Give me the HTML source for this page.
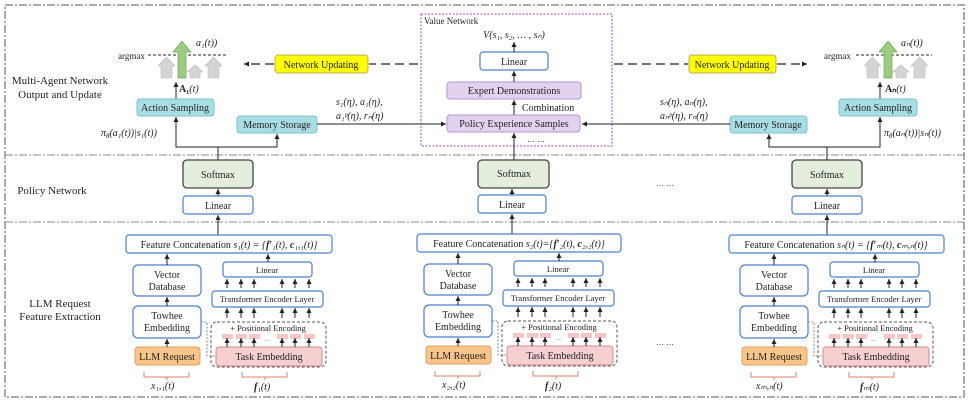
<!DOCTYPE html>
<html><head><meta charset="utf-8"><style>
html,body{margin:0;padding:0;background:#fff}
svg{display:block}
text{font-family:"Liberation Serif",serif;fill:#222}
.b{fill:#fff;stroke:#4a7fd0;stroke-width:1.2}
.sm{fill:#e3efdc;stroke:#444;stroke-width:1.3}
.cy{fill:#a9dde4;stroke:#7cc3cc;stroke-width:1}
.pu{fill:#e2d2f0;stroke:#b795d6;stroke-width:1}
.ye{fill:#ffff00;stroke:#b9a86a;stroke-width:1}
.or{fill:#f8c58b;stroke:#e0a060;stroke-width:1}
.pk{fill:#f6cfd0;stroke:#d38b8d;stroke-width:1}
.ln{stroke:#222;stroke-width:1;fill:none}
.br{stroke:#d9826a;stroke-width:1;fill:none}
.it{font-style:italic}
</style></head><body>
<svg width="969" height="402" viewBox="0 0 969 402" xmlns="http://www.w3.org/2000/svg">
<defs>
<marker id="a" markerWidth="6" markerHeight="6" refX="5" refY="3" orient="auto" markerUnits="userSpaceOnUse"><path d="M0,0.5 L5,3 L0,5.5z" fill="#222"/></marker>
</defs>
<rect x="5" y="5" width="959" height="392" fill="none" stroke="#555" stroke-width="1" stroke-dasharray="8,2,2,2"/>
<line x1="5" y1="155" x2="964" y2="155" stroke="#888" stroke-dasharray="8,2,2,2"/>
<line x1="5" y1="222" x2="964" y2="222" stroke="#888" stroke-dasharray="8,2,2,2"/>

<g font-size="11" text-anchor="middle">
<text x="60" y="84">Multi-Agent Network</text>
<text x="60" y="98">Output and Update</text>
<text x="52" y="194">Policy Network</text>
<text x="60" y="307">LLM Request</text>
<text x="60" y="320">Feature Extraction</text>
</g>

<rect x="421" y="14" width="191" height="132" fill="none" stroke="#9a4fd0" stroke-width="1" stroke-dasharray="2,1.5"/>
<text x="424" y="24" font-size="9">Value Network</text>
<text x="514" y="38" font-size="10" text-anchor="middle" class="it">V(s₁, s₂, … , sₙ)</text>
<rect class="b" x="480" y="52" width="68" height="18" rx="3"/>
<text x="514" y="65" font-size="10" text-anchor="middle">Linear</text>
<line class="ln" x1="514" y1="52" x2="514" y2="42" marker-end="url(#a)"/>
<rect class="pu" x="447" y="82" width="134" height="17" rx="3"/>
<text x="514" y="94" font-size="10" text-anchor="middle">Expert Demonstrations</text>
<line class="ln" x1="514" y1="82" x2="514" y2="71" marker-end="url(#a)"/>
<rect class="pu" x="447" y="115" width="133" height="17" rx="3"/>
<text x="514" y="127" font-size="10" text-anchor="middle">Policy Experience Samples</text>
<line class="ln" x1="514" y1="115" x2="514" y2="100" marker-end="url(#a)"/>
<text x="522" y="111" font-size="10">Combination</text>
<text x="527" y="142" font-size="8">… …</text>
<line class="ln" x1="514" y1="160" x2="514" y2="133" marker-end="url(#a)"/>

<rect class="ye" x="275" y="55" width="93" height="18" rx="3"/>
<text x="321" y="68" font-size="10" text-anchor="middle">Network Updating</text>
<line x1="418" y1="64" x2="369" y2="64" stroke="#222" stroke-width="1.3" stroke-dasharray="9,5"/>
<line x1="274" y1="64" x2="244" y2="64" stroke="#222" stroke-width="1.3" stroke-dasharray="9,5" marker-end="url(#a)"/>
<rect class="ye" x="689" y="55" width="87" height="18" rx="3"/>
<text x="732" y="68" font-size="10" text-anchor="middle">Network Updating</text>
<line x1="614" y1="64" x2="688" y2="64" stroke="#222" stroke-width="1.3" stroke-dasharray="9,5"/>
<line x1="777" y1="64" x2="807" y2="64" stroke="#222" stroke-width="1.3" stroke-dasharray="9,5" marker-end="url(#a)"/>

<text x="118" y="59" font-size="9">argmax</text>
<line x1="148" y1="55" x2="226" y2="55" stroke="#222" stroke-dasharray="3,2"/>
<path d="M161,78 V66 H158 L166.5,57 L175,66 H172 V78z" fill="#d4d4d4" stroke="#bbb" stroke-width="0.6"/>
<path d="M190,78 V72 H187 L195,65 L203,72 H200 V78z" fill="#d4d4d4" stroke="#bbb" stroke-width="0.6"/>
<path d="M208,78 V66 H205 L213.5,57 L222,66 H219 V78z" fill="#d4d4d4" stroke="#bbb" stroke-width="0.6"/>
<path d="M178,78 V52 H173 L182,41 L191,52 H186 V78z" fill="#9ccb82" stroke="#6fa55a" stroke-width="0.7"/>
<text x="196" y="46" font-size="10" class="it">a₁(t))</text>
<text x="179" y="92" font-size="10" font-weight="bold">A₁<tspan font-weight="normal" class="it">(t)</tspan></text>
<line class="ln" x1="176" y1="99" x2="176" y2="82" marker-end="url(#a)"/>
<rect class="cy" x="137" y="99" width="77" height="17" rx="3"/>
<text x="175" y="111" font-size="10" text-anchor="middle">Action Sampling</text>
<rect class="cy" x="237" y="116" width="80" height="17" rx="3"/>
<text x="277" y="128" font-size="10" text-anchor="middle">Memory Storage</text>
<text x="101" y="136" font-size="10" class="it">π<tspan font-size="7" dy="2">θ</tspan><tspan dy="-2">(a₁(t))|s₁(t))</tspan></text>
<polyline class="ln" points="218,160 218,147 176,147 176,117" marker-end="url(#a)"/>
<polyline class="ln" points="218,147 277,147 277,134" marker-end="url(#a)"/>
<line class="ln" x1="317" y1="124" x2="446" y2="124" marker-end="url(#a)"/>
<text x="336" y="105" font-size="10" class="it">s₁(η), a₁(η),</text>
<text x="336" y="119" font-size="10" class="it">a₁ᵖ(η), rₙ(η)</text>

<text x="824" y="59" font-size="9">argmax</text>
<line x1="856" y1="55" x2="932" y2="55" stroke="#222" stroke-dasharray="3,2"/>
<path d="M867,78 V66 H864 L872.5,57 L881,66 H878 V78z" fill="#d4d4d4" stroke="#bbb" stroke-width="0.6"/>
<path d="M896,78 V72 H893 L901,65 L909,72 H906 V78z" fill="#d4d4d4" stroke="#bbb" stroke-width="0.6"/>
<path d="M914,78 V66 H911 L919.5,57 L928,66 H925 V78z" fill="#d4d4d4" stroke="#bbb" stroke-width="0.6"/>
<path d="M884,78 V52 H879 L888,41 L897,52 H892 V78z" fill="#9ccb82" stroke="#6fa55a" stroke-width="0.7"/>
<text x="901" y="46" font-size="10" class="it">aₙ(t))</text>
<text x="885" y="92" font-size="10" font-weight="bold">Aₙ<tspan font-weight="normal" class="it">(t)</tspan></text>
<line class="ln" x1="880" y1="99" x2="880" y2="82" marker-end="url(#a)"/>
<rect class="cy" x="839" y="99" width="78" height="17" rx="3"/>
<text x="878" y="111" font-size="10" text-anchor="middle">Action Sampling</text>
<rect class="cy" x="730" y="116" width="77" height="17" rx="3"/>
<text x="768" y="128" font-size="10" text-anchor="middle">Memory Storage</text>
<text x="884" y="136" font-size="10" class="it">π<tspan font-size="7" dy="2">θ</tspan><tspan dy="-2">(aₙ(t))|sₙ(t))</tspan></text>
<polyline class="ln" points="827,160 827,147 880,147 880,117" marker-end="url(#a)"/>
<polyline class="ln" points="827,147 769,147 769,134" marker-end="url(#a)"/>
<line class="ln" x1="730" y1="124" x2="582" y2="124" marker-end="url(#a)"/>
<text x="660" y="105" font-size="10" class="it">sₙ(η), aₙ(η),</text>
<text x="660" y="119" font-size="10" class="it">aₙᵖ(η), rₙ(η)</text>

<rect class="sm" x="183" y="160" width="70" height="28" rx="4"/><text x="218" y="178" font-size="10" text-anchor="middle">Softmax</text>
<rect class="b" x="183" y="196" width="70" height="18" rx="3"/><text x="218" y="209" font-size="10" text-anchor="middle">Linear</text>
<line class="ln" x1="218" y1="196" x2="218" y2="189" marker-end="url(#a)"/>
<line class="ln" x1="218" y1="235" x2="218" y2="215" marker-end="url(#a)"/>
<rect class="sm" x="478" y="160" width="71" height="28" rx="4"/><text x="514" y="177" font-size="10" text-anchor="middle">Softmax</text>
<rect class="b" x="478" y="195" width="68" height="18" rx="3"/><text x="512" y="208" font-size="10" text-anchor="middle">Linear</text>
<line class="ln" x1="512" y1="195" x2="512" y2="189" marker-end="url(#a)"/>
<line class="ln" x1="512" y1="234" x2="512" y2="214" marker-end="url(#a)"/>
<rect class="sm" x="792" y="160" width="70" height="28" rx="4"/><text x="827" y="178" font-size="10" text-anchor="middle">Softmax</text>
<rect class="b" x="792" y="196" width="70" height="18" rx="3"/><text x="827" y="209" font-size="10" text-anchor="middle">Linear</text>
<line class="ln" x1="827" y1="196" x2="827" y2="189" marker-end="url(#a)"/>
<line class="ln" x1="827" y1="235" x2="827" y2="215" marker-end="url(#a)"/>
<text x="656" y="186" font-size="8">… …</text>
<text x="656" y="345" font-size="8">… …</text>

<g id="col1">
<rect class="b" x="133" y="265" width="68" height="31" rx="5"/>
<text x="167" y="278" font-size="10" text-anchor="middle">Vector</text><text x="167" y="290" font-size="10" text-anchor="middle">Database</text>
<rect class="b" x="133" y="306" width="68" height="32" rx="5"/>
<text x="167" y="319" font-size="10" text-anchor="middle">Towhee</text><text x="167" y="331" font-size="10" text-anchor="middle">Embedding</text>
<rect class="or" x="135" y="347" width="65" height="18" rx="3"/>
<text x="167" y="360" font-size="10" text-anchor="middle">LLM Request</text>
<line class="ln" x1="167" y1="347" x2="167" y2="339" marker-end="url(#a)"/>
<line class="ln" x1="167" y1="306" x2="167" y2="297" marker-end="url(#a)"/>
<line class="ln" x1="167" y1="265" x2="167" y2="254" marker-end="url(#a)"/>
<rect class="b" x="223" y="262" width="89" height="15" rx="3"/>
<text x="267" y="273" font-size="8.5" text-anchor="middle">Linear</text>
<line class="ln" x1="268" y1="262" x2="268" y2="254" marker-end="url(#a)"/>
<rect class="b" x="212" y="291" width="111" height="16" rx="3"/>
<text x="267" y="302" font-size="8.5" text-anchor="middle">Transformer Encoder Layer</text>
<rect x="211" y="322" width="115" height="45" rx="6" fill="none" stroke="#555" stroke-dasharray="3,2"/>
<text x="268" y="331" font-size="8.5" text-anchor="middle">+ Positional Encoding</text>
<polyline points="201,322 207,322 207,356 216,356" fill="none" stroke="#888" stroke-dasharray="2,1.5"/>
<rect class="pk" x="216" y="347" width="106" height="19" rx="3"/>
<text x="269" y="360" font-size="10" text-anchor="middle">Task Embedding</text>
<g fill="#f6c6c8"><rect x="222" y="334" width="11" height="5"/><rect x="236" y="334" width="11" height="5"/><rect x="249" y="334" width="11" height="5"/><rect x="277" y="334" width="11" height="5"/><rect x="290" y="334" width="11" height="5"/><rect x="304" y="334" width="11" height="5"/></g>
<text x="264" y="341" font-size="6">…</text>
<g class="ln">
<line x1="227" y1="347" x2="227" y2="338" marker-end="url(#a)"/><line x1="241" y1="347" x2="241" y2="338" marker-end="url(#a)"/><line x1="254" y1="347" x2="254" y2="338" marker-end="url(#a)"/><line x1="282" y1="347" x2="282" y2="338" marker-end="url(#a)"/><line x1="295" y1="347" x2="295" y2="338" marker-end="url(#a)"/><line x1="309" y1="347" x2="309" y2="338" marker-end="url(#a)"/>
<line x1="227" y1="318" x2="227" y2="308" marker-end="url(#a)"/><line x1="241" y1="318" x2="241" y2="308" marker-end="url(#a)"/><line x1="254" y1="318" x2="254" y2="308" marker-end="url(#a)"/><line x1="282" y1="318" x2="282" y2="308" marker-end="url(#a)"/><line x1="295" y1="318" x2="295" y2="308" marker-end="url(#a)"/><line x1="309" y1="318" x2="309" y2="308" marker-end="url(#a)"/>
<line x1="227" y1="288" x2="227" y2="279" marker-end="url(#a)"/><line x1="241" y1="288" x2="241" y2="279" marker-end="url(#a)"/><line x1="254" y1="288" x2="254" y2="279" marker-end="url(#a)"/><line x1="282" y1="288" x2="282" y2="279" marker-end="url(#a)"/><line x1="295" y1="288" x2="295" y2="279" marker-end="url(#a)"/><line x1="309" y1="288" x2="309" y2="279" marker-end="url(#a)"/>
</g>
<path class="br" d="M144,372 V377 H189 V372 M167,377 V380"/>
<path class="br" d="M242,372 V377 H287 V372 M265,377 V380"/>
</g>
<use href="#col1" transform="translate(291,-1)"/>
<use href="#col1" transform="translate(607,0)"/>

<rect class="b" x="126" y="235" width="206" height="18" rx="3"/>
<text x="229" y="248" font-size="10" text-anchor="middle">Feature Concatenation <tspan class="it">s₁(t) = {<tspan font-weight="bold">f′</tspan>₁(t), <tspan font-weight="bold">c</tspan>₁,₁(t)}</tspan></text>
<text x="151" y="389" font-size="10" class="it">x₁,₁(t)</text>
<text x="254" y="390" font-size="10" class="it"><tspan font-weight="bold">f</tspan>₁(t)</text>

<rect class="b" x="417" y="234" width="204" height="18" rx="3"/>
<text x="519" y="247" font-size="10" text-anchor="middle">Feature Concatenation <tspan class="it">s₂(t)={<tspan font-weight="bold">f′</tspan>₂(t), <tspan font-weight="bold">c</tspan>₂,₂(t)}</tspan></text>
<text x="442" y="388" font-size="10" class="it">x₂,₂(t)</text>
<text x="545" y="389" font-size="10" class="it"><tspan font-weight="bold">f</tspan>₂(t)</text>

<rect class="b" x="729" y="235" width="215" height="18" rx="3"/>
<text x="836" y="248" font-size="10" text-anchor="middle">Feature Concatenation <tspan class="it">sₙ(t) = {<tspan font-weight="bold">f′</tspan>ₘ(t), <tspan font-weight="bold">c</tspan>ₘ,ₙ(t)}</tspan></text>
<text x="756" y="389" font-size="10" class="it">xₘ,ₙ(t)</text>
<text x="860" y="390" font-size="10" class="it"><tspan font-weight="bold">f</tspan>ₘ(t)</text>
</svg>
</body></html>
